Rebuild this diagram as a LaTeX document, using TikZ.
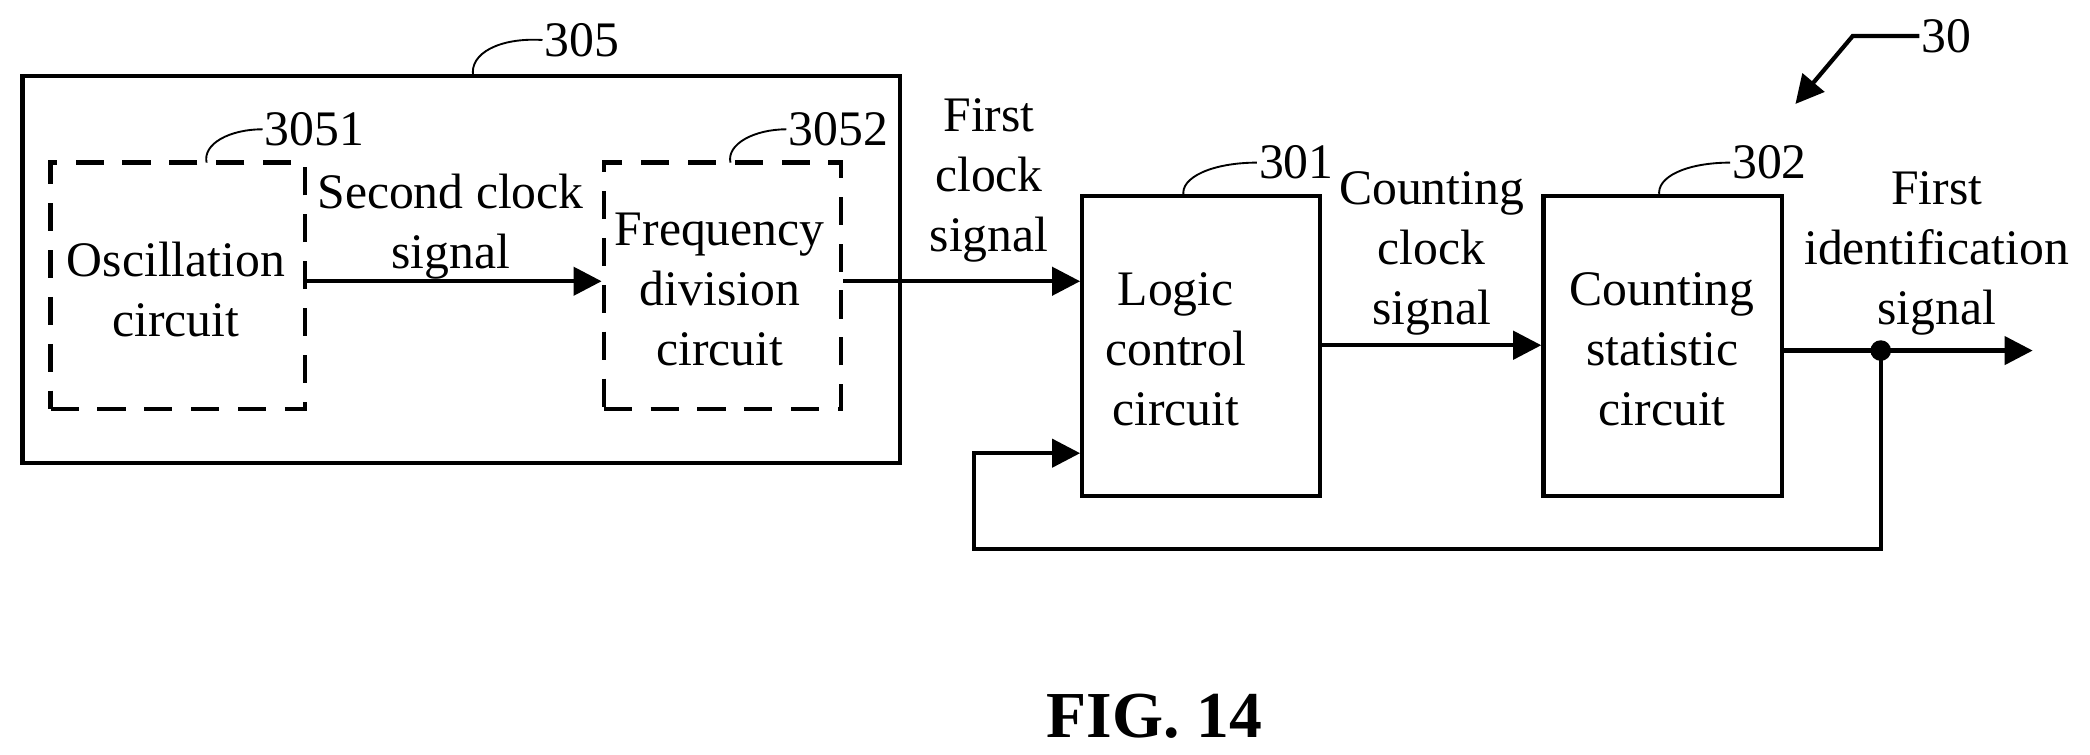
\documentclass[tikz,border=0pt]{standalone}
\usepackage{fontspec}
\setmainfont{Liberation Serif}
\usetikzlibrary{arrows.meta}
\begin{document}
\begin{tikzpicture}[x=0.01cm,y=-0.01cm,
  line width=0.9pt,
  box/.style={draw,rectangle,inner sep=0pt},
  dbox/.style={draw,rectangle,inner sep=0pt,dash pattern=on 6pt off 4pt},
  txt/.style={align=center,font=\fontsize{10.6}{12.8}\selectfont,inner sep=0pt},
  lbl/.style={font=\fontsize{10.6}{12.8}\selectfont,inner sep=0pt,anchor=west},
  sq/.style={line width=0.4pt},
  arr/.style={-{Triangle[length=6pt,width=6pt]}}]
\useasboundingbox (0,0) rectangle (1568,566);
% boxes
\node[box,minimum width=6.58cm,minimum height=2.9cm] (b305) at (346,202) {};
\node[dbox,minimum width=1.91cm,minimum height=1.85cm] (b3051) at (133.5,214.5) {};
\node[dbox,minimum width=1.78cm,minimum height=1.85cm] (b3052) at (542,214.5) {};
\node[box,minimum width=1.78cm,minimum height=2.25cm] (b301) at (901,259.5) {};
\node[box,minimum width=1.79cm,minimum height=2.25cm] (b302) at (1247.5,259.5) {};
% texts
\node[txt] (t1) at (132,217) {Oscillation\\circuit};
\node[txt] (t2) at (540,217) {Frequency\\division\\circuit};
\node[txt] (t3) at (882,262) {Logic\\control\\circuit};
\node[txt] (t4) at (1247,262) {Counting\\statistic\\circuit};
\node[txt] (s1) at (338,170) {Second clock\\signal};
\node[txt] (s2) at (742,135) {First\\clock\\signal};
\node[txt] (s3) at (1074,190) {Counting\\clock\\signal};
\node[txt] (s4) at (1453,190) {First\\identification\\signal};
% reference labels
\node[lbl] (l305) at (407,30) {305};
\node[lbl] (l3051) at (197,97) {3051};
\node[lbl] (l3052) at (590,97) {3052};
\node[lbl] (l301) at (943,122) {301};
\node[lbl] (l302) at (1298,122) {302};
\node[lbl] (l30) at (1440,27) {30};
\draw[sq] (355,57) .. controls (352,40) and (375,28) .. (l305.west);
\draw[sq] (155,122) .. controls (152,108) and (172,97) .. (l3051.west);
\draw[sq] (548,122) .. controls (545,108) and (566,97) .. (l3052.west);
\draw[sq] (888,147) .. controls (885,133) and (910,122) .. (l301.west);
\draw[sq] (1245,147) .. controls (1242,133) and (1265,122) .. (l302.west);
\coordinate (c30a) at (1390,27);
\coordinate (c30b) at (1347,78);
\draw[arr] (l30.west) -- (c30a) -- (c30b);
% connectors
\draw[arr] (b3051.east |- 0,211) -- (b3052.west |- 0,211);
\draw[arr] (b3052.east |- 0,211) -- (b301.west |- 0,211);
\draw[arr] (b301.east |- 0,259) -- (b302.west |- 0,259);
\coordinate (j) at (1411,263);
\coordinate (o) at (1525,263);
\coordinate (f1) at (1411,412);
\coordinate (f2) at (731,412);
\coordinate (f3) at (731,340);
\draw[arr] (b302.east |- j) -- (o);
\fill (j) circle (2.2pt);
\draw[arr] (j) -- (f1) -- (f2) -- (f3) -- (b301.west |- f3);
\node[font=\bfseries\fontsize{14}{17}\selectfont,inner sep=0pt] (fig) at (866,537) {FIG. 14};
\end{tikzpicture}
\end{document}
